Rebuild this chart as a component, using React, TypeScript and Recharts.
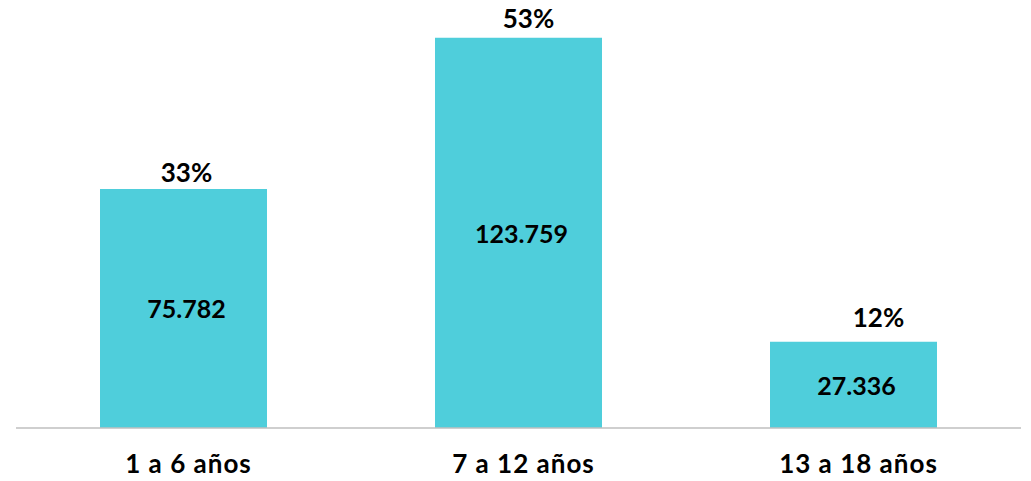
import React from "react";
import { BarChart, Bar, XAxis, YAxis, LabelList } from "recharts";

const categories = ["1 a 6 años", "7 a 12 años", "13 a 18 años"];
const values = [75782, 123759, 27336];
const valueLabels = ["75.782", "123.759", "27.336"];
const percentLabels = ["33%", "53%", "12%"];

const pctShift = [
  { dx: 3, dy: -7 },
  { dx: 10, dy: -10 },
  { dx: 25, dy: -15 },
];

const data = categories.map((c, i) => ({
  name: c,
  value: values[i],
  valueLabel: valueLabels[i],
  pct: percentLabels[i],
}));

const FONT = "Lato, 'Open Sans', sans-serif";

const PctLabel = (props: any) => {
  const { x, y, width, index } = props;
  const s = pctShift[index] || { dx: 0, dy: 0 };
  return (
    <text
      x={x + width / 2 + s.dx}
      y={y + s.dy}
      textAnchor="middle"
      fontFamily={FONT}
      fontWeight={700}
      fontSize={26}
      fill="#000"
    >
      {percentLabels[index]}
    </text>
  );
};

const ValLabel = (props: any) => {
  const { x, y, width, height, index } = props;
  return (
    <text
      x={x + width / 2 + 3}
      y={y + height / 2}
      textAnchor="middle"
      dominantBaseline="central"
      fontFamily={FONT}
      fontWeight={700}
      fontSize={25}
      fill="#000"
    >
      {valueLabels[index]}
    </text>
  );
};

const Tick = (props: any) => {
  const { x, y, payload } = props;
  return (
    <text
      x={x + 5}
      y={y + 37}
      textAnchor="middle"
      fontFamily={FONT}
      fontWeight={700}
      fontSize={26}
      letterSpacing={1}
      fill="#000"
    >
      {payload.value}
    </text>
  );
};

export default function App() {
  return (
    <div style={{ position: "absolute", left: 0, top: 0, background: "#fff" }}>
      <BarChart
        width={1031}
        height={481}
        data={data}
        margin={{ top: 18, right: 10, bottom: 0, left: 16 }}
      >
        <XAxis
          dataKey="name"
          tickLine={false}
          axisLine={{ stroke: "#bfbfbf", strokeWidth: 1.5 }}
          height={53}
          tick={<Tick />}
          interval={0}
        />
        <YAxis hide domain={[0, 130000]} />
        <Bar dataKey="value" fill="#4FCEDB" barSize={167} isAnimationActive={false}>
          <LabelList dataKey="pct" content={<PctLabel />} />
          <LabelList dataKey="valueLabel" content={<ValLabel />} />
        </Bar>
      </BarChart>
    </div>
  );
}
